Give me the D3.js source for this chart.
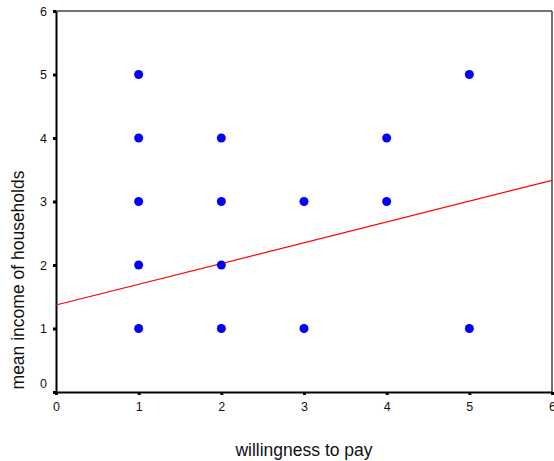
<!DOCTYPE html>
<html>
<head>
<meta charset="utf-8">
<script src="https://cdn.jsdelivr.net/npm/d3@7"></script>
<style>
  html, body { margin: 0; padding: 0; background: #fff; }
  svg { display: block; font-family: "Liberation Sans", Arial, sans-serif; }
</style>
</head>
<body>
<svg id="chart" width="554" height="461"></svg>
<script>
// Observed (willingness to pay, mean household income) pairs
const willingness = [1, 1, 1, 1, 1, 2, 2, 2, 2, 3, 3, 4, 4, 5, 5];
const income      = [5, 4, 3, 2, 1, 4, 3, 2, 1, 3, 1, 4, 3, 5, 1];

// Fitted linear trend: income = intercept + slope * willingness
const fitIntercept = 1.37;
const fitSlope = 0.327;

const xTicks = [0, 1, 2, 3, 4, 5, 6];
const yTicks = [0, 1, 2, 3, 4, 5, 6];

(function draw() {
  const svg = d3.select("#chart");
  const plotLeft = 56, plotRight = 552, plotTop = 11, plotBottom = 392;

  const x = d3.scaleLinear().domain([0, 6]).range([plotLeft, plotRight]);
  const y = d3.scaleLinear().domain([0, 6]).range([plotBottom, plotTop]);

  // plot frame: top and right edges
  svg.append("line").attr("x1", plotLeft).attr("x2", plotRight).attr("y1", plotTop).attr("y2", plotTop)
    .attr("stroke", "#444").attr("stroke-width", 1.5);
  svg.append("line").attr("x1", plotRight).attr("x2", plotRight).attr("y1", plotTop).attr("y2", plotBottom)
    .attr("stroke", "#444").attr("stroke-width", 1.5);

  // axes
  const xAxis = d3.axisBottom(x).tickValues(xTicks).tickFormat(d3.format("d"))
    .tickSizeInner(3).tickSizeOuter(0).tickPadding(7);
  const yAxis = d3.axisLeft(y).tickValues(yTicks).tickFormat(d3.format("d"))
    .tickSizeInner(3).tickSizeOuter(0).tickPadding(6);

  const gx = svg.append("g").attr("transform", `translate(0,${plotBottom})`).call(xAxis);
  const gy = svg.append("g").attr("transform", `translate(${plotLeft},0)`).call(yAxis);

  [gx, gy].forEach(g => {
    g.select(".domain").attr("stroke", "#000").attr("stroke-width", 2);
    g.selectAll(".tick line").attr("stroke", "#000").attr("stroke-width", 3);
    g.selectAll(".tick text").attr("fill", "#111").attr("font-size", 12.5)
      .attr("font-family", "Liberation Sans, Arial, sans-serif");
  });

  // lift the y-axis zero label clear of the corner
  gy.selectAll(".tick").filter(d => d === 0).select("text").attr("dy", "-0.35em");

  // regression line
  const fit = v => fitIntercept + fitSlope * v;
  svg.append("line")
    .attr("x1", x(0)).attr("y1", y(fit(0)))
    .attr("x2", x(6)).attr("y2", y(fit(6)))
    .attr("stroke", "#ff0000").attr("stroke-width", 1.2);

  // data points
  svg.append("g").selectAll("circle")
    .data(willingness.map((w, i) => ({ w, inc: income[i] })))
    .join("circle")
    .attr("cx", d => x(d.w))
    .attr("cy", d => y(d.inc))
    .attr("r", 4.5)
    .attr("fill", "#0000ff");

  // axis titles
  svg.append("text")
    .attr("x", (plotLeft + plotRight) / 2).attr("y", 456)
    .attr("text-anchor", "middle").attr("font-size", 17.5).attr("fill", "#111")
    .text("willingness to pay");

  svg.append("text")
    .attr("transform", "translate(24,280) rotate(-90)")
    .attr("text-anchor", "middle").attr("font-size", 17.5).attr("fill", "#111")
    .text("mean income of households");
})();
</script>
</body>
</html>
